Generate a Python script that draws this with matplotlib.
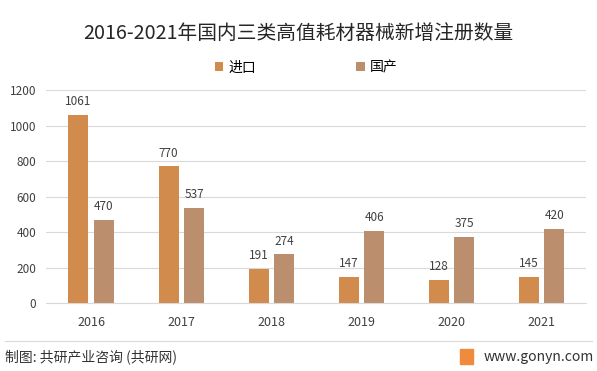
import numpy as np
import matplotlib.pyplot as plt
from matplotlib.patches import Rectangle
from matplotlib.lines import Line2D

plt.rcParams['font.family'] = ['Noto Sans CJK SC', 'DejaVu Sans']

years = ["2016", "2017", "2018", "2019", "2020", "2021"]
imported = [1061, 770, 191, 147, 128, 145]   # 进口
domestic = [470, 537, 274, 406, 375, 420]    # 国产

c_imp = "#D08B4D"
c_dom = "#BB8F6E"

fig = plt.figure(figsize=(5.97, 3.71), dpi=100)
ax = fig.add_axes([0.077, 0.183, 0.905, 0.574])

x = np.arange(len(years))
w = 0.222
b1 = ax.bar(x - 0.139, imported, w, color=c_imp, label="进口")
b2 = ax.bar(x + 0.144, domestic, w, color=c_dom, label="国产")

for bars in (b1, b2):
    for r in bars:
        ax.annotate(str(int(r.get_height())), (r.get_x() + r.get_width() / 2, r.get_height()),
                    xytext=(0, 5), textcoords="offset points", ha="center", va="bottom",
                    fontsize=8.5, color="#404040")

ax.set_xlim(-0.5, 5.5)
ax.set_ylim(0, 1200)
ax.set_yticks(range(0, 1201, 200))
ax.set_xticks(x)
ax.set_xticklabels(years)
ax.tick_params(axis="both", length=0, colors="#404040")
ax.tick_params(axis="x", pad=9, labelsize=9)
ax.tick_params(axis="y", pad=7, labelsize=8.5)
ax.grid(axis="y", color="#D9D9D9", linewidth=0.8)
ax.set_axisbelow(True)
for s in ["left", "right", "top"]:
    ax.spines[s].set_visible(False)
ax.spines["bottom"].set_color("#D9D9D9")

fig.text(0.5, 0.91, "2016-2021年国内三类高值耗材器械新增注册数量", ha="center", va="center",
         fontsize=14.2, color="#262626")
fig.legend(handles=[b1, b2], loc="center", bbox_to_anchor=(0.513, 0.818), ncol=2,
           frameon=False, fontsize=10, handlelength=0.6, handleheight=0.6,
           columnspacing=7.2, handletextpad=0.4)

# footer
fig.add_artist(Line2D([0.008, 0.992], [0.081, 0.081], color="#D9D9D9", linewidth=0.8))
fig.text(0.008, 0.038, "制图: 共研产业咨询 (共研网)", ha="left", va="center", fontsize=10, color="#333333")
fig.add_artist(Rectangle((0.771, 0.018), 0.022, 0.04, color="#F08A3C", transform=fig.transFigure))
fig.text(0.995, 0.038, "www.gonyn.com", ha="right", va="center", fontsize=10, color="#333333")

fig.savefig("out.png", dpi=100)
